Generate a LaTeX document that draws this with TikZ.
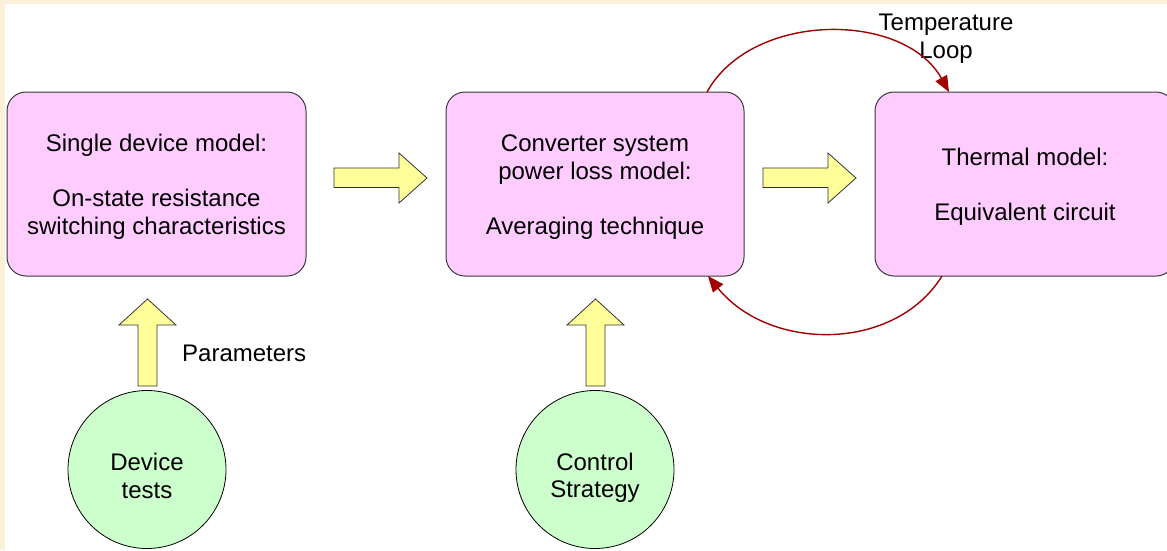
\documentclass[tikz,border=0pt]{standalone}
\usepackage{fontspec}
\setmainfont{Liberation Sans}
\usetikzlibrary{arrows.meta}
\definecolor{bgbeige}{HTML}{FBF0D8}
\definecolor{boxpink}{HTML}{FFCCFF}
\definecolor{circgreen}{HTML}{CCFFCC}
\definecolor{arrowyellow}{HTML}{FFFF99}
\definecolor{looped}{HTML}{A00000}
\definecolor{edgegray}{HTML}{3A3A3A}
\tikzset{
  txt/.style={font=\fontsize{24pt}{27.5pt}\selectfont, align=center, text=black, inner sep=0pt},
  modelbox/.style={draw=edgegray, line width=1pt, fill=boxpink, rounded corners=19pt},
  testcircle/.style={draw=black, line width=0.8pt, fill=circgreen},
  blockarrow/.style={draw=black!80, line width=0.8pt, fill=arrowyellow, line join=miter},
  loop/.style={draw=looped, line width=1.4pt, -{Triangle[length=16pt,width=13pt]}},
}
\begin{document}
\begin{tikzpicture}[x=1pt,y=-1pt]
\useasboundingbox (0,0) rectangle (1167,550);
\fill[bgbeige] (0,0) rectangle (1167,550);
\fill[white] (5,4) rectangle (1167,550);

% model boxes
\draw[modelbox] (7,92) rectangle (306,276);
\draw[modelbox] (446,92) rectangle (744,276);
\draw[modelbox] (875,92) rectangle (1175,276);
\node[txt] (single) at (156.5,187) {Single device model:\\[27.5pt]On-state resistance\\switching characteristics};
\node[txt] (conv) at (595,187) {Converter system\\power loss model:\\[27.5pt]Averaging technique};
\node[txt] (therm) at (1025,187) {Thermal model:\\[27.5pt]Equivalent circuit};

% circles
\draw[testcircle] (147,469.5) circle[radius=79];
\draw[testcircle] (595,469.5) circle[radius=79];
\node[txt] (dev) at (147,476) {Device\\tests};
\node[txt] (ctrl) at (595,478) {Control\\Strategy};

% block arrows right
\draw[blockarrow] (334,168) -- (399,168) -- (399,153) -- (427,178) -- (399,203) -- (399,187.5) -- (334,187.5) -- cycle;
\draw[blockarrow] (763,168) -- (828,168) -- (828,153) -- (856,178) -- (828,203) -- (828,187.5) -- (763,187.5) -- cycle;
% block arrows up
\draw[blockarrow] (138,386) -- (138,325) -- (119,325) -- (147.5,299) -- (176,325) -- (157,325) -- (157,386) -- cycle;
\draw[blockarrow] (586,386) -- (586,325) -- (567,325) -- (595.5,299) -- (624,325) -- (605,325) -- (605,386) -- cycle;

\node[txt, anchor=west] (params) at (182,353) {Parameters};
\node[txt] (temp) at (946,38.5) {Temperature\\Loop};

% temperature loop arcs
\coordinate (topA) at (707,92);
\coordinate (topB) at (949,92);
\coordinate (botA) at (942,276);
\coordinate (botB) at (708,276);
\draw[loop] (topA) .. controls (752,11) and (904,11) .. (topB);
\draw[loop] (botA) .. controls (895,352) and (770,352) .. (botB);
\end{tikzpicture}
\end{document}
